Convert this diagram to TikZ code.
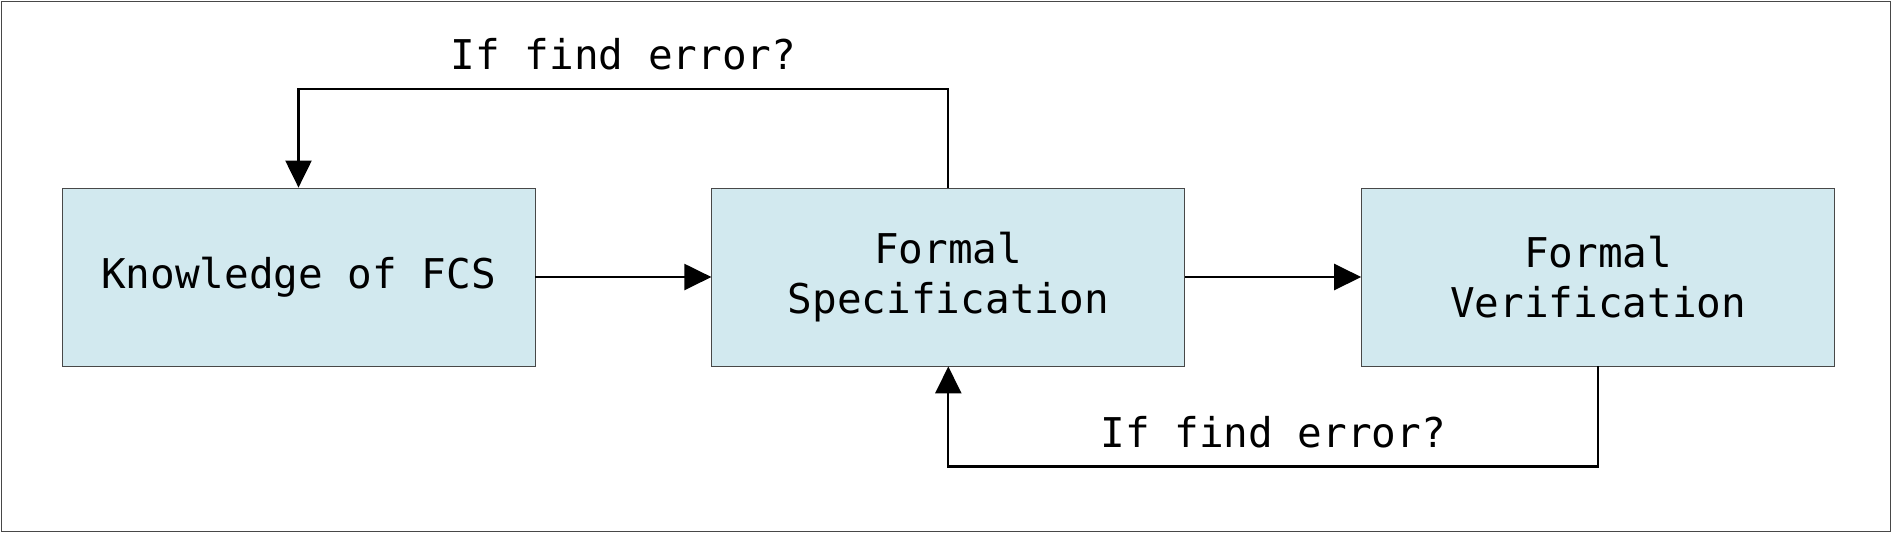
\documentclass[tikz,border=0pt]{standalone}
\usepackage{fontspec}
\setmonofont{DejaVu Sans Mono}
\usepackage{tikz}
\usetikzlibrary{arrows.meta,positioning}
\definecolor{boxfill}{HTML}{D2E9EF}
\definecolor{boxline}{HTML}{484848}
\definecolor{framegray}{HTML}{484848}

\begin{document}
\begin{tikzpicture}[
 x=1pt,y=1pt,
 node distance=88pt,
 stage/.style={draw=boxline,fill=boxfill,align=center,minimum width=236.5pt,minimum height=89pt,inner sep=0pt,font=\ttfamily\fontsize{20.5}{25}\selectfont},
 flow/.style={line width=1.1pt,-{Triangle[length=13.5pt,width=13pt]}},
 cond/.style={font=\ttfamily\fontsize{20.5}{25}\selectfont,inner sep=8.5pt},
]
\useasboundingbox (0,0) rectangle (947,-269);
\draw[framegray] (0.5,-0.5) rectangle (945,-265.5);
\node[stage] (know) at (149.25,-138.5) {Knowledge of FCS};
\node[stage,right=of know] (spec) {Formal\\Specification};
\node[stage,right=of spec] (verif) {Formal\\Verification};
\draw[flow] (know) -- (spec);
\draw[flow] (spec) -- (verif);
\draw[flow] (spec.north) -- ++(0,49.5) -| node[cond,pos=0.25,above] {If find error?} (know.north);
\draw[flow] (verif.south) -- ++(0,-50) -| node[cond,pos=0.25,above] {If find error?} (spec.south);
\end{tikzpicture}
\end{document}
